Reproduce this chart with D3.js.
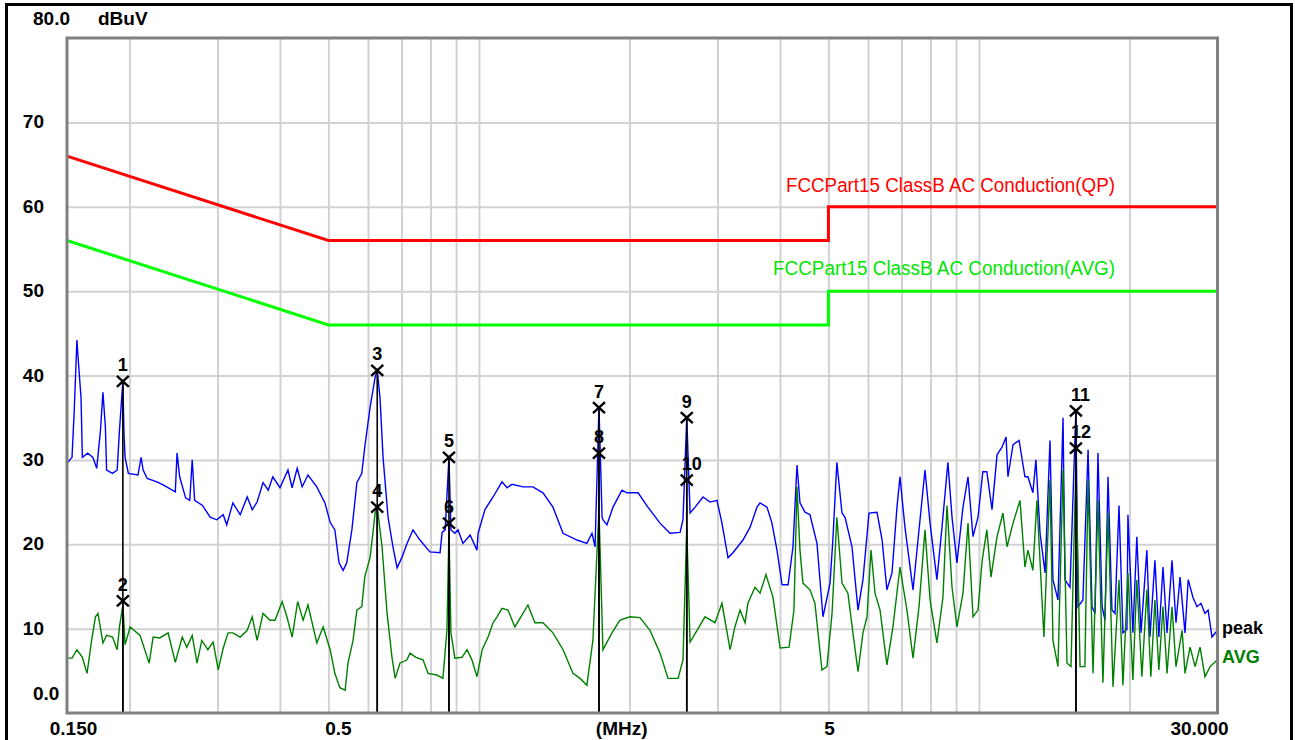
<!DOCTYPE html>
<html>
<head>
<meta charset="utf-8">
<script src="https://cdn.jsdelivr.net/npm/d3@7"></script>
<style>
  body { margin: 0; background: #fff; }
  svg { display: block; }
  text { font-family: 'Liberation Sans', Arial, sans-serif; }
</style>
</head>
<body>
<div class="canvas"></div>
<script>
//? DATA (MHz, dBuV)
const peakTrace = [
  [0.150, 29.6], [0.1535, 30.3], [0.155, 35.5], [0.157, 44.2], [0.158, 41.8], [0.160, 37.4], [0.161, 30.3],
  [0.165, 30.8], [0.169, 30.3], [0.172, 29.0], [0.175, 33.5], [0.177, 38.0], [0.179, 33.9], [0.180, 28.8],
  [0.185, 28.4], [0.189, 28.8], [0.191, 33.5], [0.194, 39.3], [0.195, 33.2], [0.196, 30.3], [0.199, 28.4],
  [0.208, 28.2], [0.211, 30.3], [0.213, 28.8], [0.217, 27.8], [0.227, 27.4], [0.234, 27.0], [0.247, 26.2],
  [0.249, 30.8], [0.252, 28.0], [0.259, 25.5], [0.264, 25.2], [0.267, 30.0], [0.270, 25.2], [0.280, 24.6],
  [0.290, 23.2], [0.299, 22.9], [0.308, 23.5], [0.313, 22.3], [0.322, 24.9], [0.333, 23.5], [0.344, 25.6],
  [0.352, 24.1], [0.360, 25.0], [0.370, 27.3], [0.379, 26.4], [0.387, 28.0], [0.400, 26.7], [0.415, 28.8],
  [0.423, 26.7], [0.433, 29.0], [0.443, 26.8], [0.455, 28.2], [0.474, 26.8], [0.492, 24.9], [0.504, 22.6],
  [0.515, 21.7], [0.525, 17.8], [0.535, 16.9], [0.544, 17.8], [0.557, 21.7], [0.570, 27.3], [0.583, 28.4],
  [0.591, 31.5], [0.606, 36.3], [0.620, 39.8], [0.626, 40.6], [0.634, 37.4], [0.643, 30.3], [0.658, 23.2],
  [0.673, 19.7], [0.686, 17.2], [0.702, 18.5], [0.718, 20.1], [0.738, 21.7], [0.762, 20.5], [0.798, 19.1],
  [0.836, 19.0], [0.844, 21.4], [0.856, 21.7], [0.871, 30.3], [0.879, 21.7], [0.895, 21.3], [0.908, 21.7],
  [0.929, 20.1], [0.960, 21.1], [0.991, 19.3], [0.996, 21.3], [1.028, 24.1], [1.067, 25.6], [1.112, 27.4],
  [1.138, 26.7], [1.164, 27.1], [1.225, 26.8], [1.282, 26.8], [1.343, 26.1], [1.406, 24.4], [1.473, 21.3],
  [1.570, 20.5], [1.644, 20.1], [1.683, 21.3], [1.707, 19.7], [1.738, 36.3], [1.763, 23.2], [1.770, 22.9],
  [1.803, 22.3], [1.854, 24.4], [1.932, 26.4], [1.977, 26.1], [2.081, 26.1], [2.177, 24.4], [2.302, 22.5],
  [2.411, 21.3], [2.525, 21.4], [2.559, 22.9], [2.604, 35.0], [2.644, 23.7], [2.706, 24.4], [2.806, 25.6],
  [2.899, 25.0], [2.993, 25.2], [3.062, 22.5], [3.149, 18.4], [3.221, 19.0], [3.373, 20.5], [3.484, 22.0],
  [3.598, 24.4], [3.649, 24.9], [3.768, 24.4], [3.855, 22.5], [3.945, 19.3], [4.039, 15.2], [4.152, 15.2],
  [4.247, 19.7], [4.326, 29.4], [4.386, 24.9], [4.488, 23.8], [4.593, 23.5], [4.743, 20.1], [4.876, 11.4],
  [5.037, 15.4], [5.103, 20.5], [5.198, 29.7], [5.322, 23.7], [5.398, 23.2], [5.573, 19.7], [5.730, 12.2],
  [5.862, 15.8], [6.027, 23.7], [6.253, 23.8], [6.402, 20.5], [6.545, 14.6], [6.701, 16.6], [6.856, 24.4],
  [6.951, 28.0], [7.113, 22.0], [7.382, 14.6], [7.553, 20.5], [7.800, 28.8], [7.984, 22.5], [8.240, 15.8],
  [8.435, 22.0], [8.668, 29.7], [8.834, 23.2], [9.037, 17.8], [9.292, 24.4], [9.509, 28.0], [9.730, 20.9],
  [9.957, 23.2], [10.18, 28.6], [10.37, 28.6], [10.62, 24.1], [10.87, 30.6], [11.12, 31.5], [11.33, 32.7],
  [11.43, 28.0], [11.70, 31.8], [12.03, 32.3], [12.36, 28.0], [12.53, 28.0], [12.82, 26.1], [13.00, 30.0],
  [13.25, 21.3], [13.56, 16.6], [13.87, 32.3], [14.06, 15.8], [14.39, 13.4], [14.73, 35.0], [14.86, 15.8],
  [15.21, 14.9], [15.63, 35.9], [15.78, 12.6], [16.14, 13.4], [16.53, 31.2], [16.83, 12.6], [17.07, 11.8],
  [17.30, 30.8], [17.63, 12.6], [17.87, 11.0], [18.12, 28.0], [18.45, 12.2], [18.71, 11.8], [19.06, 24.6],
  [19.41, 9.5], [19.77, 9.9], [19.86, 23.5], [20.32, 9.5], [20.69, 20.9], [21.09, 9.5], [21.67, 19.3],
  [21.98, 9.0], [22.49, 18.1], [22.90, 9.0], [23.34, 17.3], [23.78, 9.5], [24.33, 18.1], [24.78, 10.7],
  [25.25, 16.1], [25.83, 9.5], [26.21, 15.8], [26.80, 13.7], [27.30, 12.6], [27.80, 13.0], [28.32, 11.8],
  [28.73, 12.2], [29.25, 9.0], [30.0, 9.8]
]

const avgTrace = [
  [0.150, 6.5], [0.1535, 6.5], [0.157, 7.5], [0.161, 6.6], [0.1645, 4.7], [0.168, 8.6], [0.171, 11.4],
  [0.173, 11.8], [0.177, 8.3], [0.180, 9.2], [0.185, 9.0], [0.189, 7.5], [0.191, 10.2], [0.194, 12.8],
  [0.196, 8.1], [0.2006, 10.2], [0.210, 9.2], [0.219, 5.9], [0.223, 9.0], [0.230, 8.9], [0.239, 9.5],
  [0.247, 6.0], [0.255, 9.0], [0.2605, 7.8], [0.267, 9.2], [0.273, 5.9], [0.279, 8.6], [0.287, 7.5],
  [0.294, 8.4], [0.301, 5.1], [0.308, 7.7], [0.315, 9.5], [0.322, 9.5], [0.333, 9.0], [0.344, 9.8],
  [0.352, 11.4], [0.360, 8.6], [0.370, 11.8], [0.382, 11.0], [0.391, 11.0], [0.404, 13.2], [0.413, 11.4],
  [0.423, 9.0], [0.434, 13.2], [0.445, 11.0], [0.455, 12.8], [0.474, 8.3], [0.488, 10.2], [0.504, 7.5],
  [0.515, 4.7], [0.527, 3.0], [0.540, 2.7], [0.547, 5.9], [0.560, 8.6], [0.570, 12.2], [0.583, 12.6],
  [0.591, 16.1], [0.606, 18.5], [0.620, 23.7], [0.626, 24.4], [0.640, 19.7], [0.655, 11.8], [0.670, 6.6],
  [0.680, 4.1], [0.695, 5.9], [0.718, 6.3], [0.728, 7.1], [0.748, 6.6], [0.773, 6.3], [0.791, 4.7],
  [0.824, 4.5], [0.847, 4.1], [0.863, 9.8], [0.871, 21.7], [0.879, 9.5], [0.895, 6.5], [0.925, 6.6],
  [0.9465, 7.5], [0.968, 6.3], [0.991, 4.3], [1.015, 7.5], [1.043, 9.0], [1.067, 10.7], [1.087, 11.4],
  [1.112, 12.4], [1.143, 12.2], [1.180, 10.2], [1.219, 11.6], [1.253, 12.8], [1.294, 10.7], [1.343, 10.7],
  [1.406, 9.5], [1.473, 7.5], [1.542, 4.7], [1.593, 4.1], [1.644, 3.3], [1.690, 8.6], [1.738, 24.1],
  [1.770, 7.5], [1.845, 9.5], [1.915, 11.0], [2.005, 11.4], [2.099, 11.3], [2.198, 9.8], [2.302, 7.1],
  [2.389, 4.1], [2.502, 4.1], [2.559, 6.3], [2.604, 22.0], [2.644, 8.4], [2.730, 9.8], [2.832, 11.4],
  [2.965, 10.7], [3.062, 13.0], [3.179, 7.5], [3.250, 10.2], [3.328, 12.2], [3.406, 10.7], [3.451, 13.0],
  [3.565, 14.9], [3.649, 14.2], [3.750, 16.4], [3.874, 13.7], [4.002, 7.7], [4.171, 7.8], [4.266, 12.2],
  [4.326, 26.8], [4.386, 19.3], [4.446, 15.4], [4.593, 14.6], [4.699, 13.0], [4.853, 5.1], [4.966, 5.5],
  [5.084, 11.8], [5.198, 23.2], [5.322, 15.4], [5.469, 14.2], [5.597, 9.5], [5.730, 4.9], [5.862, 9.5],
  [5.972, 11.4], [6.083, 19.3], [6.196, 14.2], [6.342, 12.2], [6.545, 5.7], [6.730, 10.2], [6.951, 17.3],
  [7.178, 12.2], [7.382, 6.5], [7.588, 12.6], [7.800, 21.7], [7.984, 13.4], [8.240, 8.3], [8.473, 13.7],
  [8.631, 24.6], [8.834, 14.9], [9.037, 10.2], [9.292, 14.2], [9.509, 22.5], [9.730, 11.4], [9.957, 12.2],
  [10.15, 18.1], [10.37, 21.7], [10.57, 16.1], [10.87, 20.9], [11.17, 23.7], [11.38, 19.7], [11.70, 22.5],
  [12.08, 25.2], [12.36, 17.3], [12.53, 19.3], [12.82, 16.9], [13.06, 25.2], [13.37, 13.4], [13.49, 9.0],
  [13.87, 27.6], [14.06, 8.6], [14.39, 5.5], [14.73, 28.8], [15.00, 5.9], [15.28, 5.5], [15.63, 29.6],
  [15.93, 5.5], [16.29, 5.5], [16.53, 27.6], [16.91, 4.7], [17.30, 25.2], [17.70, 3.6], [18.12, 23.7],
  [18.54, 3.1], [19.06, 15.8], [19.41, 3.3], [19.86, 16.6], [20.32, 3.9], [20.69, 15.8], [21.18, 4.3],
  [21.67, 14.6], [22.07, 4.3], [22.49, 13.4], [22.90, 5.1], [23.34, 12.6], [23.78, 4.7], [24.33, 12.6],
  [24.78, 5.5], [25.49, 9.8], [25.83, 4.7], [26.44, 7.8], [27.06, 5.5], [27.68, 7.8], [28.32, 4.3],
  [28.99, 5.5], [30.0, 6.3]
]

//? LIMIT LINES
const limitMHz = [0.15, 0.5, 5, 5, 30]
const qpLimitDb = [66, 56, 56, 60, 60]
const avgLimitDb = [56, 46, 46, 50, 50]
const qpLimitName = 'FCCPart15 ClassB AC Conduction(QP)'
const avgLimitName = 'FCCPart15 ClassB AC Conduction(AVG)'

//? MARKERS
const markerNo = [1, 2, 3, 4, 5, 6, 7, 8, 9, 10, 11, 12]
const markerMHz = [0.194, 0.194, 0.626, 0.626, 0.871, 0.871, 1.738, 1.738, 2.604, 2.604, 15.63, 15.63]
const markerDb = [39.3, 13.3, 40.6, 24.4, 30.3, 22.5, 36.2, 30.8, 35.0, 27.6, 35.8, 31.4]

//? AXES
const yTicks = [10, 20, 30, 40, 50, 60, 70]
const xGridMHz = [0.2, 0.3, 0.4, 0.5, 0.6, 0.7, 0.8, 0.9, 1, 2, 3, 4, 5, 6, 7, 8, 9, 10, 20]
const xLabelMHz = [0.15, 0.5, 1.93, 5, 30]
const xLabelText = ['0.150', '0.5', '(MHz)', '5', '30.000']

//* ========== LAYOUT =============
const W = 1295
const H = 740
const plot = { left: 67, top: 38, right: 1217.5, bottom: 713 }

const svg = d3
  .select('.canvas')
  .append('svg')
  .attr('width', W)
  .attr('height', H)

svg.append('rect').attr('width', W).attr('height', H).attr('fill', '#fff')

const x = d3.scaleLog().domain([0.15, 30]).range([plot.left, plot.right])
const y = d3.scaleLinear().domain([0, 80]).range([plot.bottom, plot.top])

//? GRID
const gridX = svg
  .append('g')
  .attr('transform', `translate(0, ${plot.bottom})`)
  .call(
    d3.axisBottom(x)
      .tickValues(xGridMHz)
      .tickSize(-(plot.bottom - plot.top))
      .tickFormat('')
  )
const gridY = svg
  .append('g')
  .attr('transform', `translate(${plot.left}, 0)`)
  .call(
    d3.axisLeft(y)
      .tickValues(yTicks)
      .tickSize(-(plot.right - plot.left))
      .tickFormat('')
  )
;[gridX, gridY].forEach(g => {
  g.select('.domain').remove()
  g.selectAll('line').attr('stroke', '#d2d2d2').attr('stroke-width', 2)
})

//? LIMITS
const line = d3.line().x(d => x(d[0])).y(d => y(d[1]))

svg.append('path')
  .datum(limitMHz.map((f, i) => [f, qpLimitDb[i]]))
  .attr('d', line)
  .attr('fill', 'none')
  .attr('stroke', '#ff0000')
  .attr('stroke-width', 3)

svg.append('path')
  .datum(limitMHz.map((f, i) => [f, avgLimitDb[i]]))
  .attr('d', line)
  .attr('fill', 'none')
  .attr('stroke', '#00ff00')
  .attr('stroke-width', 3)

svg.append('text')
  .attr('x', 786).attr('y', 192)
  .attr('textLength', 329).attr('lengthAdjust', 'spacingAndGlyphs')
  .attr('font-size', 20)
  .attr('fill', '#ff0000')
  .text(qpLimitName)

svg.append('text')
  .attr('x', 773).attr('y', 275)
  .attr('textLength', 342).attr('lengthAdjust', 'spacingAndGlyphs')
  .attr('font-size', 20)
  .attr('fill', '#00e600')
  .text(avgLimitName)

//? TRACES
svg.append('path')
  .datum(peakTrace)
  .attr('d', line)
  .attr('fill', 'none')
  .attr('stroke', '#0000ff')
  .attr('stroke-width', 1.4)

svg.append('path')
  .datum(avgTrace)
  .attr('d', line)
  .attr('fill', 'none')
  .attr('stroke', '#008000')
  .attr('stroke-width', 1.4)

//? MARKERS
const markers = markerNo.map((n, i) => ({ n, f: markerMHz[i], v: markerDb[i] }))

const mk = svg.append('g')
  .selectAll('g')
  .data(markers)
  .enter()
  .append('g')
  .attr('transform', d => `translate(${x(d.f)}, ${y(d.v)})`)

mk.append('line')
  .attr('y2', d => plot.bottom - y(d.v))
  .attr('stroke', '#000')
  .attr('stroke-width', 1.6)

mk.append('path')
  .attr('d', 'M-6,-5.5L6,5.5M-6,5.5L6,-5.5')
  .attr('stroke', '#000')
  .attr('stroke-width', 2.4)
  .attr('fill', 'none')

mk.append('text')
  .attr('x', -5)
  .attr('y', -10)
  .attr('font-size', 18)
  .attr('font-weight', 'bold')
  .attr('fill', '#000')
  .text(d => d.n)

//? FRAMES
svg.append('rect')
  .attr('x', plot.left)
  .attr('y', plot.top)
  .attr('width', plot.right - plot.left)
  .attr('height', plot.bottom - plot.top)
  .attr('fill', 'none')
  .attr('stroke', '#808080')
  .attr('stroke-width', 3)

svg.append('rect')
  .attr('x', 6.5)
  .attr('y', 4.5)
  .attr('width', 1285)
  .attr('height', 800)
  .attr('fill', 'none')
  .attr('stroke', '#000')
  .attr('stroke-width', 3)

//? AXIS LABELS
const labelFont = g => g.attr('font-size', 19).attr('font-weight', 'bold').attr('fill', '#000')

svg.append('g')
  .selectAll('text')
  .data(yTicks)
  .enter()
  .append('text')
  .attr('x', 44)
  .attr('y', d => y(d) + 6)
  .attr('text-anchor', 'end')
  .call(labelFont)
  .text(d => d)

svg.append('text').attr('x', 33).attr('y', 700).call(labelFont).text('0.0')
svg.append('text').attr('x', 33).attr('y', 25).call(labelFont).text('80.0')
svg.append('text').attr('x', 98).attr('y', 25).call(labelFont).text('dBuV')

const xLabelShift = [6.5, 10, 0, 1, -18]
svg.append('g')
  .selectAll('text')
  .data(xLabelText)
  .enter()
  .append('text')
  .attr('x', (d, i) => x(xLabelMHz[i]) + xLabelShift[i])
  .attr('y', 735)
  .attr('text-anchor', 'middle')
  .call(labelFont)
  .text(d => d)

svg.append('text').attr('x', 1222).attr('y', 634)
  .attr('font-size', 18).attr('font-weight', 'bold').attr('fill', '#000').text('peak')
svg.append('text').attr('x', 1222).attr('y', 663)
  .attr('font-size', 18).attr('font-weight', 'bold').attr('fill', '#008000').text('AVG')
</script>
</body>
</html>
